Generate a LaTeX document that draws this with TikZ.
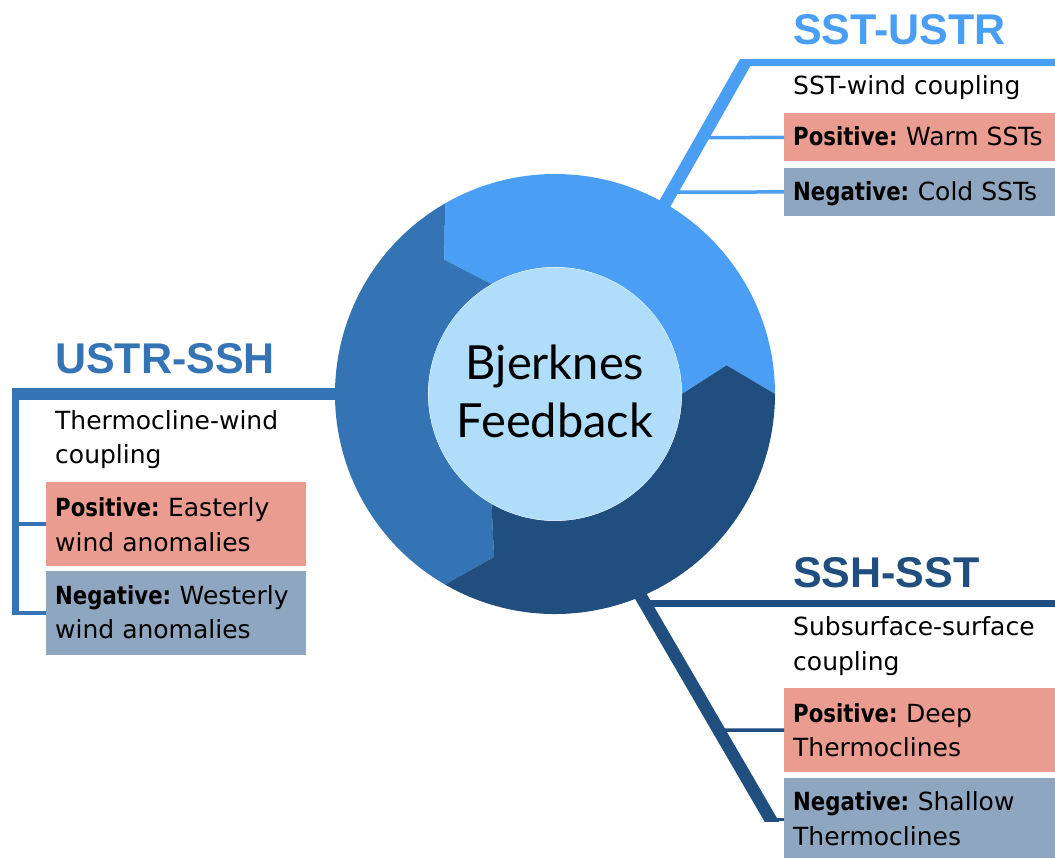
\documentclass[tikz,border=0pt]{standalone}
\usepackage{fontspec}
\setmainfont{DejaVu Sans}[BoldFeatures={FakeStretch=0.85}]
\newfontfamily\titlefont{Liberation Sans}
\newfontfamily\hubfont{Lato}
\usetikzlibrary{calc}

\definecolor{segLight}{HTML}{4A9FF5}
\definecolor{segMid}{HTML}{3473B4}
\definecolor{segDark}{HTML}{1F4E7F}
\definecolor{hubFill}{HTML}{B0DDFA}
\definecolor{posFill}{HTML}{EB9C90}
\definecolor{negFill}{HTML}{8FA6C0}

\tikzset{
  trunk/.style={line width=12.5pt, line cap=butt},
  spine/.style={line width=7pt, line cap=butt},
  twig/.style={line width=3.5pt, line cap=butt},
  card/.style 2 args={draw=none, inner sep=0pt, outer sep=0pt, anchor=north west,
    minimum width=#1, minimum height=#2},
  heading/.style={font=\titlefont\bfseries\fontsize{43}{50}\selectfont,
    anchor=base west, inner sep=0pt},
  body/.style={font=\fontsize{25}{34.3}\selectfont, anchor=base west,
    inner sep=0pt, align=left},
}

\begin{document}
\begin{tikzpicture}[x=1pt,y=1pt]
\useasboundingbox (0,0) rectangle (1055,-858);

% outer ring used as anchor for the connectors
\node[circle, minimum size=440pt, inner sep=0pt, outer sep=0pt] (ring) at (555,-394) {};

% ---------- SST-USTR branch (top right) ----------
\coordinate (trc) at (745,-62.8);
\coordinate (tre) at (1055,-62.8);
\node[card={271pt}{48pt}, fill=posFill] (tpos) at (784,-113.5) {};
\node[card={271pt}{48pt}, fill=negFill] (tneg) at (784,-168) {};
\begin{scope}
  \clip (0,-59.3) rectangle (1055,-858);
  \draw[segLight, trunk] ($(ring.60)!-10pt!(trc)$) -- ($(ring.60)!1.06!(trc)$);
\end{scope}
\draw[segLight, spine] (trc) -- (tre);
\draw[segLight, twig] (tpos.west) -- (intersection of ring.60--trc and tpos.west--tpos.east);
\draw[segLight, twig] (tneg.west) -- (intersection of ring.60--trc and tneg.west--tneg.east);

% ---------- USTR-SSH branch (left) ----------
\coordinate (lc) at (15,-394);
\coordinate (lcx) at (11.5,-394);
\node[card={260pt}{83.5pt}, fill=posFill] (lpos) at (46,-482.3) {};
\node[card={260pt}{84pt}, fill=negFill] (lneg) at (46,-571) {};
\draw[segMid, spine] (lc) -- ($(lc |- lneg.west)+(0,-1.6)$);
\draw[segMid, trunk] ($(ring.180)+(10,0)$) -- (lcx);
\draw[segMid, twig] (lpos.west) -- (lc |- lpos.west);
\draw[segMid, twig] (lneg.west) -- (lc |- lneg.west);

% ---------- SSH-SST branch (bottom right) ----------
\node[card={271pt}{83.4pt}, fill=posFill] (bpos) at (784,-688.3) {};
\node[card={271pt}{83.4pt}, fill=negFill] (bneg) at (784,-777.7) {};
\coordinate (brc) at ($(bneg.west)+(-13.5,0)$);
\coordinate (bre) at (1055,-603);
\begin{scope}
  \clip (0,0) rectangle (1055,-821);
  \draw[segDark, trunk] ($(ring.293)!-10pt!(brc)$) -- ($(ring.293)!1.06!(brc)$);
\end{scope}
\draw[segDark, spine] (ring.293 |- bre) -- (bre);
\draw[segDark, twig] (bpos.west) -- (intersection of ring.293--brc and bpos.west--bpos.east);
\draw[segDark, twig] (bneg.west) -- (brc);

% ---------- feedback ring: three chevron segments ----------
\begin{scope}[shift={(ring.center)}]
  \fill[segLight] (0:220) arc[start angle=0, end angle=120, radius=220]
    -- (129.5:174) -- (120:127) arc[start angle=120, end angle=0, radius=127]
    -- (9.5:174) -- cycle;
  \fill[segMid] (120:220) arc[start angle=120, end angle=240, radius=220]
    -- (249.5:174) -- (240:127) arc[start angle=240, end angle=120, radius=127]
    -- (129.5:174) -- cycle;
  \fill[segDark] (240:220) arc[start angle=240, end angle=360, radius=220]
    -- (369.5:174) -- (360:127) arc[start angle=360, end angle=240, radius=127]
    -- (249.5:174) -- cycle;
\end{scope}
\node[circle, fill=hubFill, minimum size=253pt, inner sep=0pt] (hub) at (ring.center) {};
% multi-line nodes sit on the baseline of their last line
\node[font=\hubfont\fontsize{47}{58.4}\selectfont, align=center, anchor=base, inner sep=0pt]
  (hubtext) at (555,-437.7) {Bjerknes\\Feedback};

% ---------- labels ----------
\node[heading, text=segLight] (ttl) at (793,-45) {SST-USTR};
\node[body] (tsub) at (793,-95) {SST-wind coupling};
\node[body] (tpt) at (793,-146) {\textbf{Positive:}\hspace{-2pt} Warm SSTs};
\node[body] (tnt) at (793,-200.7) {\textbf{Negative:}\hspace{-2pt} Cold SSTs};

\node[heading, text=segMid] (ltl) at (55,-373.3) {USTR-SSH};
\node[body] (lsub) at (55,-464) {Thermocline-wind\\coupling};
\node[body] (lpt) at (55,-551) {\textbf{Positive:}\hspace{-2pt} Easterly\\wind anomalies};
\node[body] (lnt) at (55,-638.3) {\textbf{Negative:}\hspace{-2pt} Westerly\\wind anomalies};

\node[heading, text=segDark] (btl) at (793,-587) {SSH-SST};
\node[body] (bsub) at (793,-670) {Subsurface-surface\\coupling};
\node[body] (bpt) at (793,-756.7) {\textbf{Positive:}\hspace{-2pt} Deep\\Thermoclines};
\node[body] (bnt) at (793,-845) {\textbf{Negative:}\hspace{-2pt} Shallow\\Thermoclines};
\end{tikzpicture}
\end{document}
